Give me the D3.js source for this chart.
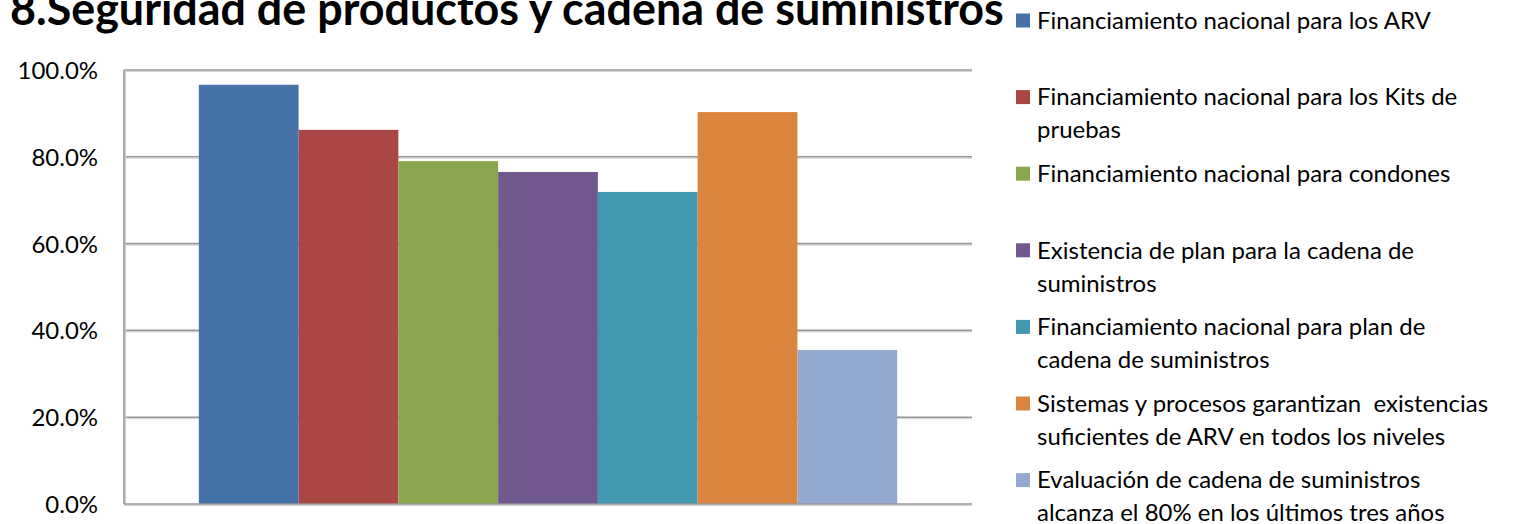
<!DOCTYPE html>
<html>
<head>
<meta charset="utf-8">
<script src="https://cdn.jsdelivr.net/npm/d3@7"></script>
<style>
  html, body { margin: 0; padding: 0; background: #fff; }
  svg { display: block; }
  text { font-family: Lato, "Open Sans", sans-serif; fill: #000; white-space: pre; }
</style>
</head>
<body>
<svg id="chart" width="1515" height="524"></svg>
<script>
// ---- data ----
const title = "8.Seguridad de productos y cadena de suministros";
const series = [
  "Financiamiento nacional para los ARV",
  "Financiamiento nacional para los Kits de pruebas",
  "Financiamiento nacional para condones",
  "Existencia de plan para la cadena de suministros",
  "Financiamiento nacional para plan de cadena de suministros",
  "Sistemas y procesos garantizan  existencias suficientes de ARV en todos los niveles",
  "Evaluación de cadena de suministros alcanza el 80% en los últimos tres años"
];
const legendLines = [
  ["Financiamiento nacional para los ARV"],
  ["Financiamiento nacional para los Kits de", "pruebas"],
  ["Financiamiento nacional para condones"],
  ["Existencia de plan para la cadena de", "suministros"],
  ["Financiamiento nacional para plan de", "cadena de suministros"],
  ["Sistemas y procesos garantizan  existencias", "suficientes de ARV en todos los niveles"],
  ["Evaluación de cadena de suministros", "alcanza el 80% en los últimos tres años"]
];
const values = [0.966, 0.862, 0.790, 0.765, 0.719, 0.903, 0.355];
const colors = ["#4572A7", "#AA4643", "#89A54E", "#71588F", "#4198AF", "#DB843D", "#93A9CF"];
const yTicks = [0, 0.2, 0.4, 0.6, 0.8, 1.0];

// ---- layout ----
const svg = d3.select("#chart");
const plot = { left: 124, right: 972, top: 70, bottom: 504 };

const y = d3.scaleLinear().domain([0, 1]).range([plot.bottom, plot.top]);
const x = d3.scaleBand().domain(series).range([plot.left, plot.right])
  .paddingInner(0).paddingOuter(0.75);

// fit helper: scale font so a text spans a target width
function fitSize(sel, target) {
  const w = sel.node().getComputedTextLength();
  const fs = parseFloat(sel.attr("font-size"));
  return fs * target / w;
}

// measure legend font size
const probe = svg.append("text").attr("font-size", 26).text(legendLines[0][0]);
const legendFs = fitSize(probe, 394);
probe.remove();

// gridlines
const grid = svg.append("g");
yTicks.filter(t => t > 0).forEach(t => {
  grid.append("line")
    .attr("x1", plot.left).attr("x2", plot.right)
    .attr("y1", y(t) + 1.5).attr("y2", y(t) + 1.5)
    .attr("stroke", "#d4d4d4").attr("stroke-width", 1);
  grid.append("line")
    .attr("x1", plot.left).attr("x2", plot.right)
    .attr("y1", y(t)).attr("y2", y(t))
    .attr("stroke", "#979797").attr("stroke-width", 1.6);
});

// bars
svg.append("g").selectAll("rect")
  .data(series)
  .join("rect")
  .attr("x", d => x(d))
  .attr("width", x.bandwidth())
  .attr("y", (d, i) => y(values[i]))
  .attr("height", (d, i) => y(0) - y(values[i]))
  .attr("fill", (d, i) => colors[i]);

// axes lines (with soft shadow)
const axisG = svg.append("g");
axisG.append("line").attr("x1", plot.left + 1.5).attr("x2", plot.left + 1.5)
  .attr("y1", plot.top).attr("y2", plot.bottom + 1.5).attr("stroke", "#d0d0d0").attr("stroke-width", 1);
axisG.append("line").attr("x1", plot.left).attr("x2", plot.right)
  .attr("y1", plot.bottom + 1.5).attr("y2", plot.bottom + 1.5).attr("stroke", "#d0d0d0").attr("stroke-width", 1);
axisG.append("line").attr("x1", plot.left).attr("x2", plot.left)
  .attr("y1", plot.top).attr("y2", plot.bottom).attr("stroke", "#979797").attr("stroke-width", 1.6);
axisG.append("line").attr("x1", plot.left).attr("x2", plot.right)
  .attr("y1", plot.bottom).attr("y2", plot.bottom).attr("stroke", "#979797").attr("stroke-width", 1.6);

// y axis via d3.axisLeft
const yAxis = d3.axisLeft(y).tickValues(yTicks).tickFormat(d3.format(".1%")).tickSize(0).tickPadding(26);
const ya = svg.append("g").attr("transform", `translate(${plot.left},0)`).call(yAxis);
ya.select(".domain").remove();
ya.selectAll("text")
  .attr("font-size", legendFs)
  .attr("font-family", "Lato, 'Open Sans', sans-serif")
  .attr("fill", "#000")
  .attr("dy", "0.35em");

// title
const t = svg.append("text")
  .attr("x", 10).attr("y", 25)
  .attr("font-size", 40).attr("font-weight", "bold")
  .text(title);
t.attr("font-size", fitSize(t, 994));

// legend
const legTop = 20.5, legStep = 76.6, lineH = 33;
const lg = svg.append("g");
legendLines.forEach((lines, i) => {
  const cy = legTop + i * legStep;
  lg.append("rect").attr("x", 1016).attr("y", cy - 7).attr("width", 14).attr("height", 14)
    .attr("fill", colors[i]);
  lines.forEach((ln, j) => {
    lg.append("text").attr("x", 1037).attr("y", cy + j * lineH)
      .attr("dy", "0.35em")
      .attr("font-size", legendFs)
      .text(ln);
  });
});
</script>
</body>
</html>
